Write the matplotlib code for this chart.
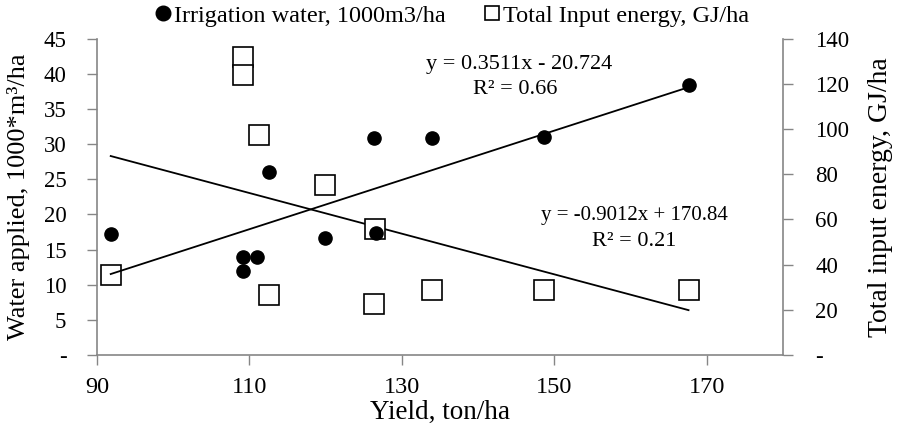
import numpy as np
import matplotlib
matplotlib.use('Agg')
import matplotlib.pyplot as plt
from matplotlib.lines import Line2D
from matplotlib.ticker import FuncFormatter

plt.rcParams['font.family'] = ['Liberation Serif', 'DejaVu Serif']

# yield, ton/ha
yield_water = [91.8, 109.2, 109.2, 111.0, 112.6, 119.9, 126.4, 126.6, 134.0, 148.7, 167.6]
water = [17.2, 13.9, 12.0, 14.0, 26.0, 16.6, 30.9, 17.4, 30.9, 31.1, 38.5]

yield_energy = [91.8, 109.2, 109.2, 111.2, 112.6, 119.9, 126.3, 126.5, 134.0, 148.6, 167.6]
energy = [35.4, 132.2, 124.1, 97.5, 26.6, 75.3, 22.5, 55.7, 28.8, 28.8, 28.8]

# trendline coefficients as printed on the chart
water_fit = [0.3511, -20.724]
energy_fit = [-0.9012, 170.84]

grey = '#868686'

fig = plt.figure(figsize=(8.98, 4.28), dpi=100)
ax = fig.add_axes([0.108, 0.171, 0.764, 0.738])
ax2 = ax.twinx()
ax.set_zorder(ax2.get_zorder() + 1)
ax.patch.set_visible(False)

ax2.plot(yield_energy, energy, 's', ms=14, mfc='white', mec='black', mew=1.2, zorder=3)
xe = np.array([min(yield_energy), max(yield_energy)])
ax2.plot(xe, np.polyval(energy_fit, xe), color='black', lw=1.3, zorder=2)

ax.plot(yield_water, water, 'o', ms=9.5, color='black', zorder=3)
xw = np.array([min(yield_water), max(yield_water)])
ax.plot(xw, np.polyval(water_fit, xw), color='black', lw=1.3, zorder=2)

ax.set_xlim(90, 180)
ax.set_xticks([90, 110, 130, 150, 170])
ax.set_ylim(0, 45)
ax.set_yticks(np.arange(0, 46, 5))
ax2.set_ylim(0, 140)
ax2.set_yticks(np.arange(0, 141, 20))

dash = FuncFormatter(lambda v, p: '-' if v == 0 else '%d' % v)
ax.yaxis.set_major_formatter(dash)
ax2.yaxis.set_major_formatter(dash)

for a in (ax, ax2):
    for s in a.spines.values():
        s.set_visible(False)
    a.tick_params(colors='black', length=7, width=1, color=grey)
ax.spines['left'].set_visible(True)
ax.spines['bottom'].set_visible(True)
ax2.spines['right'].set_visible(True)
for s in (ax.spines['left'], ax.spines['bottom'], ax2.spines['right']):
    s.set_color(grey)
    s.set_linewidth(1.2)

ax.tick_params(axis='y', labelsize=16.5, pad=15)
ax.tick_params(axis='x', labelsize=17.5, pad=9)
ax2.tick_params(axis='y', labelsize=16.5, pad=16)

ax.set_xlabel('Yield, ton/ha', fontsize=19.5, labelpad=1)
ax.set_ylabel('Water applied, 1000*m³/ha', fontsize=19)
ax2.set_ylabel('Total input energy, GJ/ha', fontsize=20)
ax.yaxis.set_label_coords(-0.098, 0.5)
ax2.yaxis.set_label_coords(1.124, 0.5)

ax.text(145.4, 41.3, 'y = 0.3511x - 20.724', fontsize=16, ha='center', va='center')
ax.text(144.8, 37.8, 'R² = 0.66', fontsize=16, ha='center', va='center')
ax.text(160.5, 19.9, 'y = -0.9012x + 170.84', fontsize=15, ha='center', va='center')
ax.text(160.5, 16.1, 'R² = 0.21', fontsize=16, ha='center', va='center')

handles = [
    Line2D([], [], marker='o', ls='none', color='black', ms=10.5),
    Line2D([], [], marker='s', ls='none', mfc='white', mec='black', mew=1.2, ms=10),
]
fig.legend(handles, ['Irrigation water, 1000m3/ha', 'Total Input energy, GJ/ha'],
           loc='center', bbox_to_anchor=(0.5, 0.963), ncol=2, frameon=False,
           fontsize=17.5, handletextpad=-0.15, columnspacing=1.3, handlelength=1.2)

fig.savefig('out.png', dpi=100)
